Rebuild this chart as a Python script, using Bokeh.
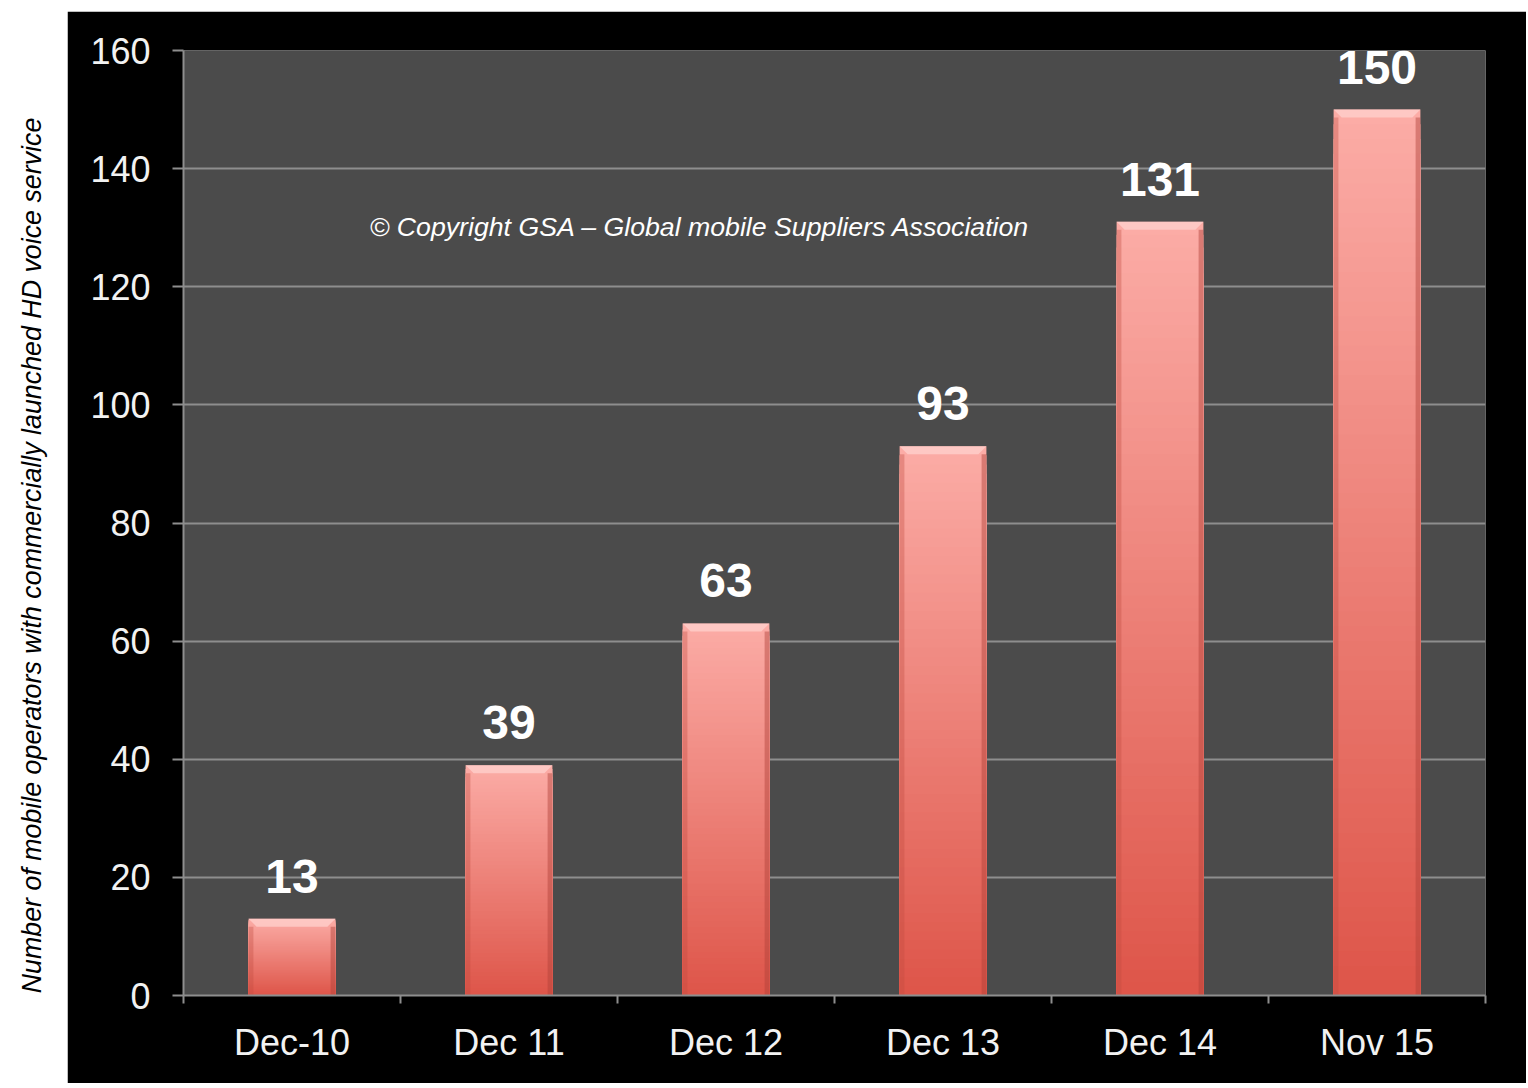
import math
from bokeh.plotting import figure
from bokeh.models import (ColumnDataSource, FixedTicker, Range1d, Label, LabelSet, Spacer)
from bokeh.core.properties import value
from bokeh.layouts import row, column
from bokeh.embed import file_html
from bokeh.resources import INLINE

# ---- data ----
categories = ["Dec-10", "Dec 11", "Dec 12", "Dec 13", "Dec 14", "Nov 15"]
values = [13, 39, 63, 93, 131, 150]
y_ticks = [0, 20, 40, 60, 80, 100, 120, 140, 160]
y_label = "Number of mobile operators with commercially launched HD voice service"
copyright_text = "\u00a9 Copyright GSA \u2013 Global mobile Suppliers Association"

FONT = "Liberation Sans"
BAR_W = 0.4
TOP = (252, 172, 166)
BOT = (222, 86, 74)

n = len(categories)
centers = [i + 0.5 for i in range(n)]
bounds = [float(i) for i in range(n + 1)]

p = figure(width=1459, height=1072, x_range=Range1d(0, n), y_range=Range1d(0, 160),
           output_backend="svg", toolbar_location=None,
           min_border_left=116, min_border_right=41, min_border_top=39, min_border_bottom=88,
           background_fill_color="#4b4b4b", border_fill_color="black",
           outline_line_color=None)

# gradient bars: nested quads from the base, tallest (lightest) drawn first
N = 60
left, right, bottom, top, colors = [], [], [], [], []
for c, v in zip(centers, values):
    for k in range(N - 1, -1, -1):
        t = k / (N - 1)
        r = int(BOT[0] + (TOP[0] - BOT[0]) * t)
        g = int(BOT[1] + (TOP[1] - BOT[1]) * t)
        b = int(BOT[2] + (TOP[2] - BOT[2]) * t)
        left.append(c - BAR_W / 2)
        right.append(c + BAR_W / 2)
        bottom.append(0)
        top.append(v * (k + 1) / N)
        colors.append("#%02x%02x%02x" % (r, g, b))
p.quad(left=left, right=right, bottom=bottom, top=top, fill_color=colors, line_color=None)

# bevel highlight at top of each bar
bh = 8 * 160 / 945.0
bw = 8 * n / 1302.0
xs, ys = [], []
for c, v in zip(centers, values):
    xs.append([c - BAR_W / 2, c + BAR_W / 2, c + BAR_W / 2 - bw, c - BAR_W / 2 + bw])
    ys.append([v, v, v - bh, v - bh])
p.patches(xs, ys, fill_color="#ffd2ce", fill_alpha=0.75, line_color=None)
# side edges
p.quad(left=[c - BAR_W / 2 for c in centers], right=[c - BAR_W / 2 + 0.6 * bw for c in centers],
       bottom=[0] * n, top=[v - bh for v in values], fill_color="#c04a40", fill_alpha=0.35, line_color=None)
p.quad(left=[c + BAR_W / 2 - 0.6 * bw for c in centers], right=[c + BAR_W / 2 for c in centers],
       bottom=[0] * n, top=[v - bh for v in values], fill_color="#b04038", fill_alpha=0.45, line_color=None)

# value labels
src = ColumnDataSource(dict(x=centers, y=values, t=[str(v) for v in values]))
p.add_layout(LabelSet(x="x", y="y", text="t", source=src, y_offset=26,
                      text_align="center", text_baseline="bottom",
                      text_font=value(FONT), text_font_style="bold", text_font_size="48px",
                      text_color="white"))

p.add_layout(Label(x=2.38, y=130.2, text=copyright_text, text_align="center",
                   text_baseline="middle", text_font=FONT, text_font_style="italic",
                   text_font_size="26.7px", text_color="white"))

# axes
GRID = "#8e8e8e"
p.yaxis.ticker = FixedTicker(ticks=y_ticks)
p.ygrid.ticker = FixedTicker(ticks=y_ticks)
p.ygrid.grid_line_color = GRID
p.ygrid.grid_line_width = 2
p.xgrid.grid_line_color = None

for ax in (p.yaxis[0], p.xaxis[0]):
    ax.axis_line_color = GRID
    ax.axis_line_width = 2
    ax.major_label_text_color = "#f2f2f2"
    ax.major_label_text_font = FONT
    ax.major_label_text_font_size = "36px"

p.yaxis.major_tick_out = 11
p.yaxis.major_tick_in = 0
p.yaxis.major_tick_line_color = GRID
p.yaxis.major_tick_line_width = 2
p.yaxis.minor_tick_line_color = None
p.yaxis.major_label_standoff = 22

p.xaxis.ticker = FixedTicker(ticks=centers, minor_ticks=bounds)
p.xaxis.major_label_overrides = {c: lab for c, lab in zip(centers, categories)}
p.xaxis.major_tick_line_color = None
p.xaxis.major_tick_out = 8
p.xaxis.minor_tick_out = 8
p.xaxis.minor_tick_in = 0
p.xaxis.minor_tick_line_color = GRID
p.xaxis.minor_tick_line_width = 2
p.xaxis.major_label_standoff = 18

# left side label figure (white)
lf = figure(width=67, height=1088, output_backend="svg", toolbar_location=None,
            min_border=0, x_range=Range1d(0, 1), y_range=Range1d(0, 1),
            background_fill_color="white", border_fill_color="white", outline_line_color=None)
lf.axis.visible = False
lf.grid.visible = False
lf.add_layout(Label(x=31, y=1088 - 555, x_units="screen", y_units="screen", text=y_label,
                    angle=math.pi / 2, text_align="center", text_baseline="middle",
                    text_font=FONT, text_font_style="italic", text_font_size="26.8px",
                    text_color="black"))

layout = row(lf, column(Spacer(width=1459, height=11), p))
open("out.html", "w").write(file_html(layout, INLINE))
